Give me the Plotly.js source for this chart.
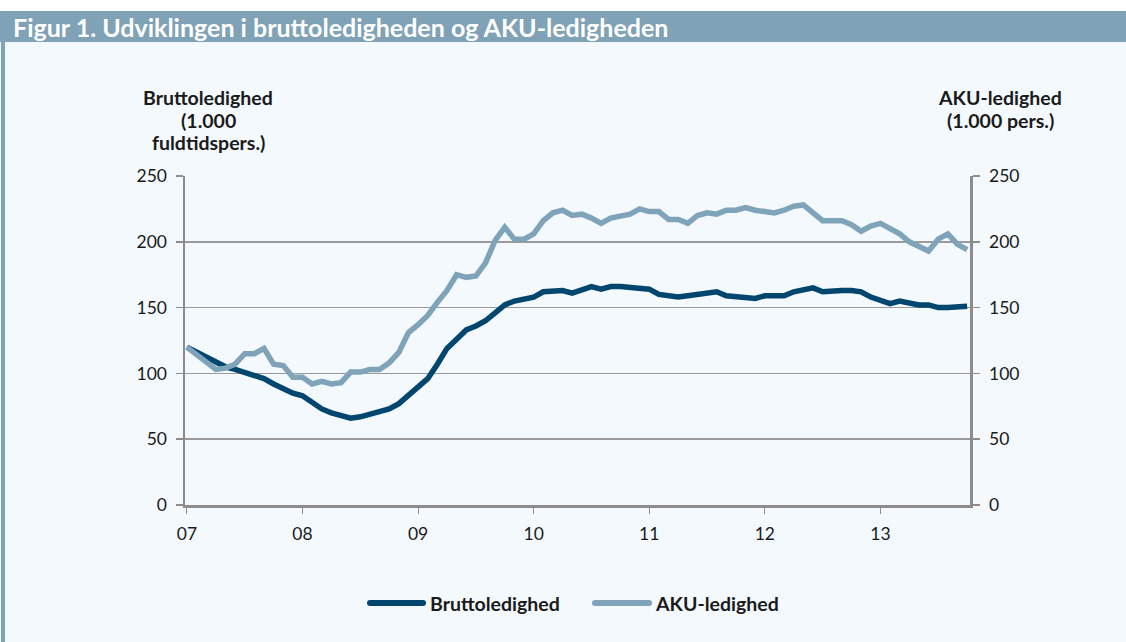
<!DOCTYPE html>
<html>
<head>
<meta charset="utf-8">
<script src="https://cdn.plot.ly/plotly-3.0.1.min.js"></script>
<style>
html,body{margin:0;padding:0;background:#f4f9fd;}
#chart{width:1126px;height:642px;}
</style>
</head>
<body>
<div id="chart"></div>
<script>
// Months since Jan 2007 (0 = Jan 2007 ... 81 = Oct 2013)
const months = Array.from({length: 82}, (_, i) => i);
const yearTickVals = [0, 12, 24, 36, 48, 60, 72];
const yearTickText = ["07", "08", "09", "10", "11", "12", "13"];
const yTicks = [0, 50, 100, 150, 200, 250];
const seriesNames = ["Bruttoledighed", "AKU-ledighed"];
const leftTitleLines = ["Bruttoledighed", "(1.000", "fuldtidspers.)"];
const rightTitleLines = ["AKU-ledighed", "(1.000 pers.)"];

const bruttoledighed = [
  120,116,112,108,105,103,101,99,96,92,88,85,
  83,78,73,70,68,66,67,69,70,73,77,83,
  89,96,107,119,126,133,136,140,146,152,155,156,
  158,162,163,163,161,163,166,164,166,166,165,164,
  164,160,159,158,159,160,160,162,159,158,157,157,
  159,159,159,162,163,165,162,163,163,163,162,158,
  156,153,155,153,152,152,150,150,151,151
];
const akuledighed = [
  120,114,108,103,104,107,115,115,119,107,106,97,
  97,92,94,92,93,101,101,103,103,108,116,131,
  137,144,154,163,175,173,174,184,201,211,202,202,
  206,216,222,224,220,221,218,214,218,220,221,225,
  223,223,217,217,214,220,222,221,224,224,226,224,
  223,222,224,227,228,222,216,216,216,213,208,212,
  214,210,206,200,196,193,202,206,198,194
];

// Plot area in pixels
const L = 185, R = 970, T = 176, B = 505, W = 1126, H = 642;
const pw = R - L, ph = B - T;
const px = x => (x - L) / pw;
const py = y => (B - y) / ph;

const grey = "#8c8c8c";
const dark = "#00466e", light = "#7fa3b9";
const font = "Lato, 'Open Sans', sans-serif";
const txt = "#1a1a1a";

const traces = [
  {x: months, y: bruttoledighed, type: "scatter", mode: "lines", name: seriesNames[0],
   line: {color: dark, width: 5.5}, yaxis: "y"},
  {x: months, y: akuledighed, type: "scatter", mode: "lines", name: seriesNames[1],
   line: {color: light, width: 5.5}, yaxis: "y2"}
];

const annotations = [
  {text: "Figur 1. Udviklingen i bruttoledigheden og AKU-ledigheden", xref: "paper", yref: "paper",
   x: px(11), y: py(27), xanchor: "left", yanchor: "middle", showarrow: false,
   font: {family: font, size: 25, color: "#ffffff", weight: "bold"}}
];
const lineYs = [97, 120, 142];
leftTitleLines.forEach((t, i) => annotations.push({
  text: t, xref: "paper", yref: "paper", x: px(208), y: py(lineYs[i]),
  xanchor: "center", yanchor: "middle", showarrow: false,
  font: {family: font, size: 19.5, color: txt, weight: "bold"}}));
rightTitleLines.forEach((t, i) => annotations.push({
  text: t, xref: "paper", yref: "paper", x: px(1000), y: py(lineYs[i]),
  xanchor: "center", yanchor: "middle", showarrow: false,
  font: {family: font, size: 19.5, color: txt, weight: "bold"}}));

// Legend (drawn manually to match long rounded samples)
const legendY = 603;
const legendItems = [
  {x0: 370, x1: 423, tx: 428, color: dark, name: seriesNames[0]},
  {x0: 595, x1: 649, tx: 653, color: light, name: seriesNames[1]}
];
const shapes = [
  {type: "rect", xref: "paper", yref: "paper", x0: px(0), x1: px(W), y0: py(11), y1: py(0),
   fillcolor: "#ffffff", line: {width: 0}, layer: "below"},
  {type: "rect", xref: "paper", yref: "paper", x0: px(0), x1: px(W), y0: py(42), y1: py(11),
   fillcolor: "#7fa2b7", line: {width: 0}, layer: "below"},
  {type: "rect", xref: "paper", yref: "paper", x0: px(1), x1: px(5), y0: py(H), y1: py(42),
   fillcolor: "#7fa2b7", line: {width: 0}, layer: "below"}
];
legendItems.forEach(it => {
  shapes.push({type: "line", xref: "paper", yref: "paper", x0: px(it.x0), x1: px(it.x1),
    y0: py(legendY), y1: py(legendY), line: {color: it.color, width: 6}});
  shapes.push({type: "circle", xref: "paper", yref: "paper",
    x0: px(it.x0 - 3), x1: px(it.x0 + 3), y0: py(legendY + 3), y1: py(legendY - 3),
    fillcolor: it.color, line: {width: 0}});
  shapes.push({type: "circle", xref: "paper", yref: "paper",
    x0: px(it.x1 - 3), x1: px(it.x1 + 3), y0: py(legendY + 3), y1: py(legendY - 3),
    fillcolor: it.color, line: {width: 0}});
  annotations.push({text: it.name, xref: "paper", yref: "paper", x: px(it.tx), y: py(legendY),
    xanchor: "left", yanchor: "middle", showarrow: false,
    font: {family: font, size: 19.5, color: txt, weight: "bold"}});
});

const layout = {
  width: W, height: H,
  margin: {l: L, r: W - R, t: T, b: H - B, pad: 0},
  paper_bgcolor: "#f4f9fd",
  plot_bgcolor: "#f4f9fd",
  font: {family: font, size: 17, color: txt},
  showlegend: false,
  xaxis: {range: [-0.2, 81.3], tickvals: yearTickVals, ticktext: yearTickText,
          showgrid: false, zeroline: false, showline: true, linecolor: grey, linewidth: 2.5,
          ticks: "outside", ticklen: 6, tickcolor: grey, tickwidth: 1,
          ticklabelstandoff: 5,
          tickfont: {family: font, size: 17.5, color: txt}, fixedrange: true},
  yaxis: {range: [0, 250], tickvals: yTicks, showgrid: true, gridcolor: "#9a9a9a", gridwidth: 1.5,
          zeroline: false, showline: true, linecolor: grey, linewidth: 2.5,
          ticks: "outside", ticklen: 7, tickcolor: grey, tickwidth: 1.5,
          ticklabelstandoff: 5,
          tickfont: {family: font, size: 17.5, color: txt}},
  yaxis2: {range: [0, 250], tickvals: yTicks, overlaying: "y", side: "right",
           showgrid: false, zeroline: false, showline: true, linecolor: grey, linewidth: 2.5,
           ticks: "outside", ticklen: 7, tickcolor: grey, tickwidth: 1.5,
           ticklabelstandoff: 6,
           tickfont: {family: font, size: 17.5, color: txt}},
  shapes: shapes,
  annotations: annotations
};

Plotly.newPlot("chart", traces, layout, {displayModeBar: false, staticPlot: true});
</script>
</body>
</html>
